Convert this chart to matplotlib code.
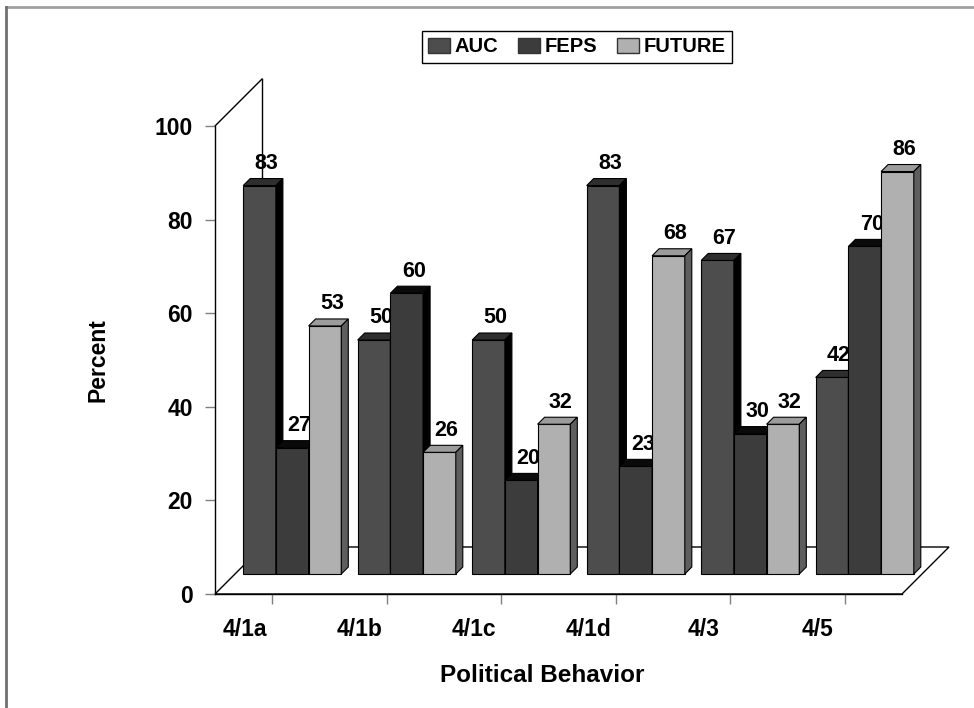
import numpy as np
import matplotlib.pyplot as plt
from matplotlib.patches import Polygon, Patch
from matplotlib.lines import Line2D
from matplotlib.transforms import ScaledTranslation

plt.rcParams['font.family'] = ['Liberation Sans', 'DejaVu Sans']
plt.rcParams['font.weight'] = 'bold'

categories = ['4/1a', '4/1b', '4/1c', '4/1d', '4/3', '4/5']
series = ['AUC', 'FEPS', 'FUTURE']
auc = [83, 50, 50, 83, 67, 42]
feps = [27, 60, 20, 23, 30, 70]
future = [53, 26, 32, 68, 32, 86]

front_col = ['#4d4d4d', '#3c3c3c', '#b0b0b0']
top_col = ['#2e2e2e', '#0a0a0a', '#9c9c9c']
side_col = ['#000000', '#000000', '#5e5e5e']

fig = plt.figure(figsize=(9.74, 7.08), dpi=100)
ax = fig.add_axes([215/974, 1-594/708, 687/974, 468/708])
ax.set_xlim(0, len(categories))
ax.set_ylim(0, 100)
ax.patch.set_visible(False)

# depth of the floor: 47 px back and 47 px up
px_x = ax.bbox.width / len(categories)
px_y = ax.bbox.height / 100
DX = 47 / px_x
DY = 47 / px_y


def proj(x, y, d):
    return (x + d*DX, y + d*DY)


# floor and back wall
floor = Polygon([proj(0, 0, 0), proj(6, 0, 0), proj(6, 0, 1), proj(0, 0, 1)],
                closed=True, fc='white', ec='black', lw=1, clip_on=False, zorder=1)
ax.add_patch(floor)
p0, p1 = proj(0, 100, 0), proj(0, 100, 1)
ax.plot([p0[0], p1[0]], [p0[1], p1[1]], color='black', lw=1, clip_on=False, zorder=1)
b0 = proj(0, 0, 1)
ax.plot([b0[0], p1[0]], [b0[1], p1[1]], color='black', lw=1, clip_on=False, zorder=1)

# bars sit in the middle of the floor depth
d0, d1 = 20/47, 27/47
bw = 0.2856
z = 3
for i in range(len(categories)):
    left = i + 0.5 - 1.5*bw
    for j, vals in enumerate([auc, feps, future]):
        v = vals[i]
        x0 = left + j*bw
        x1 = x0 + bw
        front = [proj(x0, 0, d0), proj(x1, 0, d0), proj(x1, v, d0), proj(x0, v, d0)]
        top = [proj(x0, v, d0), proj(x1, v, d0), proj(x1, v, d1), proj(x0, v, d1)]
        side = [proj(x1, 0, d0), proj(x1, 0, d1), proj(x1, v, d1), proj(x1, v, d0)]
        for pts, c in [(front, front_col[j]), (top, top_col[j]), (side, side_col[j])]:
            ax.add_patch(Polygon(pts, closed=True, fc=c, ec='black', lw=0.8,
                                 clip_on=False, zorder=z))
        ax.annotate(str(v), xy=proj((x0+x1)/2, v, (d0+d1)/2), xytext=(2.5, 9.5),
                    textcoords='offset points', ha='center', va='baseline',
                    fontsize=15.5, fontweight='bold', zorder=z+1, annotation_clip=False)
        z += 2

for s in ['top', 'right']:
    ax.spines[s].set_visible(False)
for s in ['left', 'bottom']:
    ax.spines[s].set_linewidth(1)
    ax.spines[s].set_color('black')

ax.set_yticks(range(0, 101, 20))
ax.set_xticks(np.arange(len(categories)) + 0.5)
ax.set_xticklabels(categories)
ax.tick_params(axis='y', length=7.2, width=1, color='#808080', pad=8.6, labelsize=16.5)
ax.tick_params(axis='x', length=7.2, width=1, color='#808080', pad=10, labelsize=16.5)
shift = ScaledTranslation(-27/100, 0, fig.dpi_scale_trans)
for lab in ax.get_xticklabels():
    lab.set_transform(lab.get_transform() + shift)

fig.text(98/974, 1-360/708, 'Percent', rotation=90, ha='center', va='center',
         fontsize=16.5, fontweight='bold')
fig.text(542/974, 1-676/708, 'Political Behavior', ha='center', va='center',
         fontsize=17.5, fontweight='bold')

handles = [Patch(fc=c, ec='#333333', lw=1) for c in front_col]
leg = fig.legend(handles, series, loc='center', bbox_to_anchor=(577/974, 1-47/708),
                 ncol=3, frameon=True, fancybox=False, edgecolor='black', framealpha=1,
                 prop={'size': 14.5, 'weight': 'bold'}, handlelength=1.05,
                 handleheight=0.7, handletextpad=0.25, columnspacing=1.0,
                 borderpad=0.3, borderaxespad=0)
leg.get_frame().set_linewidth(1)

# outer frame, top and left edges
fig.add_artist(Line2D([6/974, 1], [1-7/708, 1-7/708], transform=fig.transFigure,
                      color='#a0a0a0', lw=2))
fig.add_artist(Line2D([6/974, 6/974], [0, 1-7/708], transform=fig.transFigure,
                      color='#707070', lw=2))

fig.savefig('out.png', dpi=100)
